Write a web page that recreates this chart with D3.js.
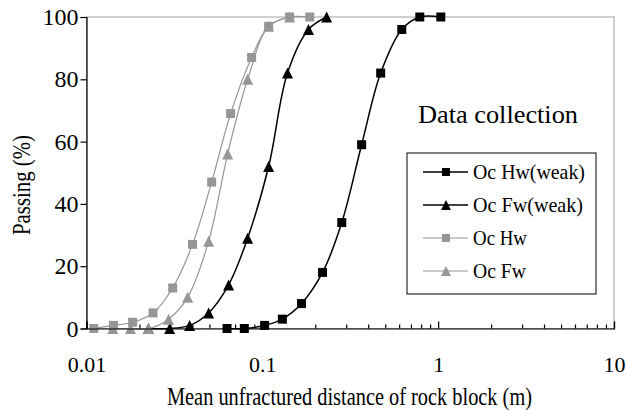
<!DOCTYPE html>
<html>
<head>
<meta charset="utf-8">
<script src="https://cdn.jsdelivr.net/npm/d3@7"></script>
<style>
  html, body { margin: 0; padding: 0; background: #fff; }
  text { font-family: "Liberation Serif", "Times New Roman", serif; fill: #000; }
</style>
</head>
<body>
<div id="chart"></div>
<script>
// mean unfractured distance (m) and passing (%)
var hwWeakX = [0.063, 0.079, 0.103, 0.13, 0.167, 0.22, 0.283, 0.367, 0.471, 0.621, 0.786, 1.035];
var hwWeakY = [0, 0, 1, 3, 8, 18, 34, 59, 82, 96, 100, 100];
var fwWeakX = [0.0225, 0.0297, 0.0386, 0.0495, 0.0643, 0.0825, 0.1086, 0.139, 0.183, 0.232];
var fwWeakY = [0, 0, 1, 5, 14, 29, 52, 82, 96, 100];
var hwX = [0.011, 0.01425, 0.0183, 0.0239, 0.0309, 0.0401, 0.0515, 0.066, 0.0869, 0.1086, 0.143, 0.186];
var hwY = [0, 1, 2, 5, 13, 27, 47, 69, 87, 97, 100, 100];
var fwX = [0.0141, 0.0178, 0.0225, 0.0293, 0.0376, 0.0495, 0.0635, 0.0825, 0.1086, 0.143];
var fwY = [0, 0, 0, 3, 10, 28, 56, 80, 97, 100];

var seriesNames = ['Oc Hw(weak)', 'Oc Fw(weak)', 'Oc Hw', 'Oc Fw'];
var xTickValues = [0.01, 0.1, 1, 10];
var yTickValues = [0, 20, 40, 60, 80, 100];

var width = 626,
    height = 410,
    margin = { left: 86.5, top: 17, right: 12, bottom: 81.5 };

var grey = '#969696';
var serif = '"Liberation Serif", "Times New Roman", serif';

// triangle centred on its bounding box, like the spreadsheet marker
var triangle = {
    draw: function (ctx, size) {
        var r = Math.sqrt(size) / 2;
        ctx.moveTo(0, -r);
        ctx.lineTo(r, r);
        ctx.lineTo(-r, r);
        ctx.closePath();
    }
};

var series = [
    { name: seriesNames[0], xs: hwWeakX, ys: hwWeakY, color: '#000', sw: 1.5, shape: d3.symbolSquare, size: 81 },
    { name: seriesNames[1], xs: fwWeakX, ys: fwWeakY, color: '#000', sw: 1.5, shape: triangle, size: 121 },
    { name: seriesNames[2], xs: hwX, ys: hwY, color: grey, sw: 1.2, shape: d3.symbolSquare, size: 81 },
    { name: seriesNames[3], xs: fwX, ys: fwY, color: grey, sw: 1.2, shape: triangle, size: 121 }
];

var svg = d3.select('#chart')
    .append('svg')
    .attr('width', width)
    .attr('height', height);

var x = d3.scaleLog()
    .domain([0.01, 10])
    .range([margin.left, width - margin.right]);

var y = d3.scaleLinear()
    .domain([0, 100])
    .range([height - margin.bottom, margin.top]);

// grey plot-area border (top and right show)
svg.append('rect')
    .attr('x', x(0.01))
    .attr('y', y(100))
    .attr('width', x(10) - x(0.01))
    .attr('height', y(0) - y(100))
    .attr('fill', 'none')
    .attr('stroke', '#a0a0a0')
    .attr('stroke-width', 1);

// data lines and markers
var line = d3.line()
    .x(function (d) { return x(d[0]); })
    .y(function (d) { return y(d[1]); })
    .curve(d3.curveCatmullRom.alpha(0.5));

series.forEach(function (s) {
    var pts = s.xs.map(function (v, i) { return [v, s.ys[i]]; });
    var g = svg.append('g');
    g.append('path')
        .datum(pts)
        .attr('d', line)
        .attr('fill', 'none')
        .attr('stroke', s.color)
        .attr('stroke-width', s.sw);
    g.selectAll('path.marker')
        .data(pts)
        .enter()
        .append('path')
        .attr('class', 'marker')
        .attr('transform', function (d) {
            return 'translate(' + x(d[0]) + ',' + y(d[1]) + ')';
        })
        .attr('d', d3.symbol().type(s.shape).size(s.size))
        .attr('fill', s.color);
});

// y axis
var yAxis = svg.append('g')
    .attr('transform', 'translate(' + x(0.01) + ',0)')
    .call(d3.axisLeft(y).tickValues(yTickValues).tickSize(6).tickPadding(2));
yAxis.attr('font-family', serif).attr('font-size', 24);
yAxis.selectAll('text').style('font-family', serif).style('font-size', '24px');

// x axis: minor ticks, then major ticks with labels
var minor = x.ticks().filter(function (v) {
    return xTickValues.indexOf(+v.toPrecision(1)) < 0;
});
svg.append('g')
    .attr('transform', 'translate(0,' + y(0) + ')')
    .call(d3.axisBottom(x).tickValues(minor).tickSize(-4).tickFormat(''))
    .select('.domain').remove();

var xAxis = svg.append('g')
    .attr('transform', 'translate(0,' + y(0) + ')')
    .call(d3.axisBottom(x)
        .tickValues(xTickValues)
        .tickSize(-7)
        .tickPadding(28)
        .tickFormat(function (d) { return String(d); }));
xAxis.attr('font-family', serif).attr('font-size', 22);
xAxis.selectAll('text').style('font-family', serif).style('font-size', '22px');

svg.selectAll('.domain, .tick line').attr('stroke', '#000').attr('stroke-width', 1.2);

// axis titles
svg.append('text')
    .attr('x', 349.5)
    .attr('y', 405)
    .attr('text-anchor', 'middle')
    .attr('textLength', 365)
    .attr('lengthAdjust', 'spacingAndGlyphs')
    .style('font-size', '25px')
    .text('Mean unfractured distance of rock block (m)');

svg.append('text')
    .attr('transform', 'translate(30,185) rotate(-90)')
    .attr('text-anchor', 'middle')
    .attr('textLength', 100)
    .attr('lengthAdjust', 'spacingAndGlyphs')
    .style('font-size', '25px')
    .text('Passing (%)');

// legend
svg.append('text')
    .attr('x', 418)
    .attr('y', 123)
    .attr('textLength', 160)
    .attr('lengthAdjust', 'spacingAndGlyphs')
    .style('font-size', '26px')
    .text('Data collection');

var legend = svg.append('g').attr('transform', 'translate(407,153)');

legend.append('rect')
    .attr('width', 189)
    .attr('height', 141)
    .attr('fill', '#fff')
    .attr('stroke', '#000')
    .attr('stroke-width', 1);

var rowY = d3.scalePoint()
    .domain(seriesNames)
    .range([19, 118]);

var legendWidths = [112, 110, 54, 53];

var rows = legend.selectAll('g.row')
    .data(series)
    .enter()
    .append('g')
    .attr('class', 'row')
    .attr('transform', function (d) { return 'translate(0,' + rowY(d.name) + ')'; });

rows.append('line')
    .attr('x1', 16)
    .attr('x2', 61)
    .attr('stroke', function (d) { return d.color; })
    .attr('stroke-width', function (d) { return d.sw; });

rows.append('path')
    .attr('transform', 'translate(39,0)')
    .attr('d', function (d) { return d3.symbol().type(d.shape).size(d.size * 0.8)(); })
    .attr('fill', function (d) { return d.color; });

rows.append('text')
    .attr('x', 66)
    .attr('y', 7)
    .attr('textLength', function (d, i) { return legendWidths[i]; })
    .attr('lengthAdjust', 'spacingAndGlyphs')
    .style('font-size', '21px')
    .text(function (d) { return d.name; });
</script>
</body>
</html>
